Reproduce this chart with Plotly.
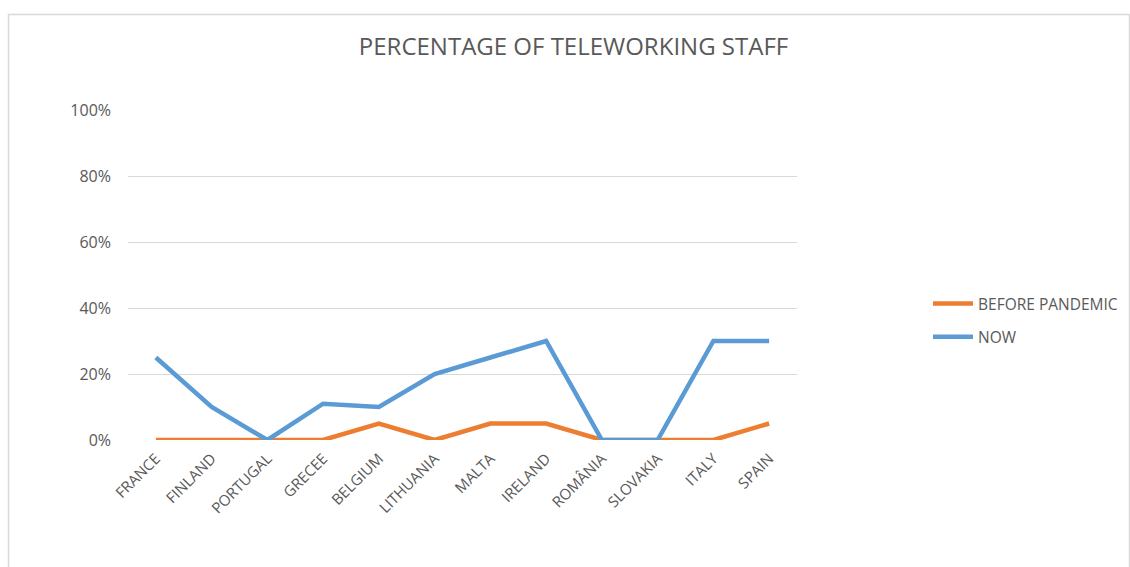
import plotly.graph_objects as go

countries = ["FRANCE", "FINLAND", "PORTUGAL", "GRECEE", "BELGIUM", "LITHUANIA",
             "MALTA", "IRELAND", "ROMÂNIA", "SLOVAKIA", "ITALY", "SPAIN"]
before_pandemic = [0.00, 0.00, 0.00, 0.00, 0.05, 0.00, 0.05, 0.05, 0.00, 0.00, 0.00, 0.05]
now = [0.25, 0.10, 0.00, 0.11, 0.10, 0.20, 0.25, 0.30, 0.00, 0.00, 0.30, 0.30]
y_ticks = [0, 0.2, 0.4, 0.6, 0.8, 1.0]

FONT = "Open Sans, Liberation Sans, sans-serif"
GRAY = "#595959"

fig = go.Figure()
fig.add_trace(go.Scatter(x=countries, y=before_pandemic, mode="lines",
                         name="BEFORE PANDEMIC", legendgroup="a",
                         line=dict(color="#ED7D31", width=4.5)))
fig.add_trace(go.Scatter(x=countries, y=now, mode="lines", name="NOW",
                         legendgroup="b",
                         line=dict(color="#5B9BD5", width=4.5)))

L, R, T, B = 128, 333, 110, 127
W, H = 1130, 567
pw, ph = W - L - R, H - T - B

fig.update_layout(
    width=W, height=H,
    margin=dict(l=L, r=R, t=T, b=B, autoexpand=False),
    paper_bgcolor="white", plot_bgcolor="white",
    title=dict(text="PERCENTAGE OF TELEWORKING STAFF", x=573.5 / W, xanchor="center",
               y=1 - 47 / H, yanchor="middle",
               font=dict(family=FONT, size=24, color=GRAY)),
    font=dict(family=FONT, size=15, color=GRAY),
    showlegend=True,
    legend=dict(x=(928 - L) / pw, y=1 - (287 - T) / ph, xanchor="left", yanchor="top",
                font=dict(family=FONT, size=15.5, color=GRAY),
                itemwidth=40, tracegroupgap=10, bgcolor="rgba(0,0,0,0)"),
    xaxis=dict(range=[-0.5, 11.5], tickangle=-45, showgrid=False, zeroline=False,
               showline=False, ticks="", ticklabelstandoff=6,
               tickfont=dict(size=15, color=GRAY)),
    yaxis=dict(range=[0, 1], tickvals=y_ticks, tickformat=".0%", showgrid=True,
               gridcolor="#D9D9D9", gridwidth=1.3, zeroline=False, showline=False,
               ticks="", ticklabelstandoff=16, tickfont=dict(size=16, color=GRAY)),
    shapes=[dict(type="rect", xref="paper", yref="paper",
                 x0=(8.5 - L) / pw, x1=(1129.5 - L) / pw,
                 y0=-(B + 20) / ph, y1=1 + (T - 14.5) / ph,
                 line=dict(color="#D9D9D9", width=1.5), fillcolor="rgba(0,0,0,0)",
                 layer="below")],
)

fig.write_html("out.html")
